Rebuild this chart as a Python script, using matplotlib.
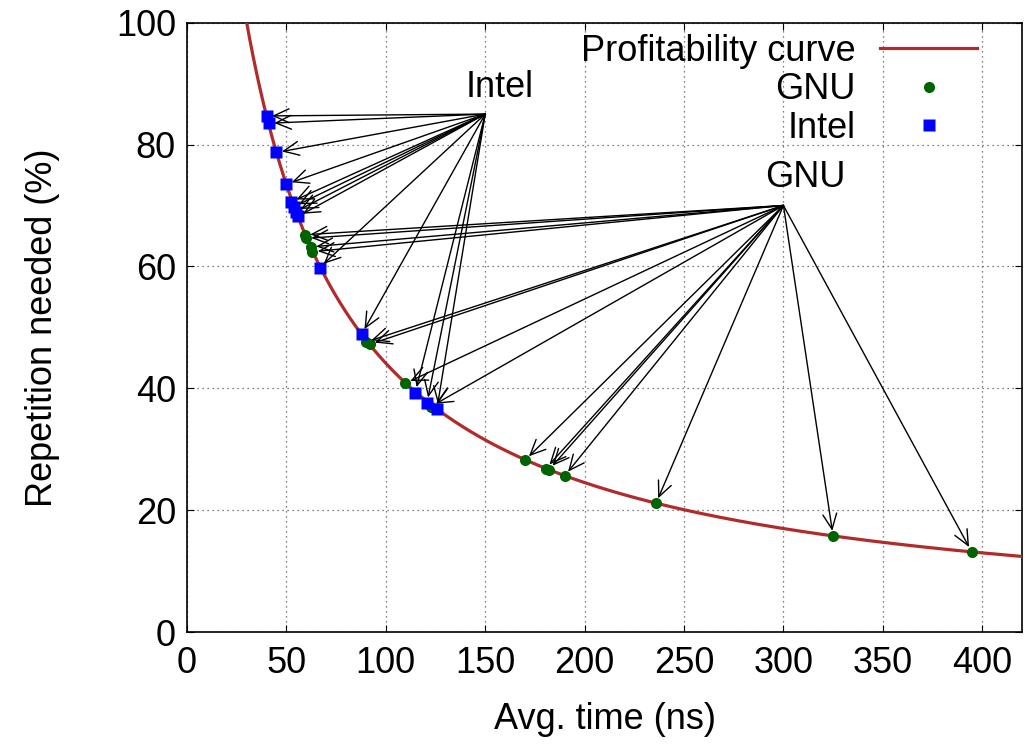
import numpy as np
import matplotlib
matplotlib.use("Agg")
import matplotlib.pyplot as plt

plt.rcParams['font.family'] = ['Liberation Sans', 'DejaVu Sans']

# ---- data ----
# Profitability curve: repetition (%) = CURVE_A / (time + CURVE_B)
CURVE_A = 5522.0
CURVE_B = 25.2

gnu_x = [59.2, 59.7, 62.2, 63.0, 90.1, 91.8, 109.8, 122.7, 170.0, 180.4, 182.0, 189.9, 235.9, 325.0, 394.7]
gnu_y = [65.2, 64.6, 63.2, 62.4, 47.6, 47.2, 40.8, 37.0, 28.2, 26.8, 26.6, 25.6, 21.1, 15.7, 13.15]

intel_x = [40.0, 41.1, 45.0, 50.0, 52.5, 53.7, 54.7, 55.8, 66.7, 87.9, 114.8, 120.7, 125.7]
intel_y = [84.7, 83.5, 78.7, 73.5, 70.6, 69.8, 69.0, 68.2, 59.8, 48.9, 39.3, 37.6, 36.6]

intel_label = "Intel"
intel_label_pos = (157, 89.3)
intel_origin = (150, 85)
gnu_label = "GNU"
gnu_label_pos = (311, 74.6)
gnu_origin = (300, 70)

x_ticks = [0, 50, 100, 150, 200, 250, 300, 350, 400]
y_ticks = [0, 20, 40, 60, 80, 100]

# ---- figure ----
fig = plt.figure(figsize=(10.25, 7.46), dpi=100)
ax = fig.add_axes([187/1025, 1 - 632/746, (1022-187)/1025, (632-22.7)/746])

FS = 26

xs = np.linspace(0.5, 420, 2000)
ax.plot(xs, CURVE_A / (xs + CURVE_B), color='#b22b2b', lw=2.3, label='Profitability curve', zorder=3)

arrow_kw = dict(arrowstyle='->,head_length=0.55,head_width=0.25', color='black', lw=1.0,
                shrinkA=0, shrinkB=4, mutation_scale=20)
for px, py in zip(intel_x, intel_y):
    ax.annotate('', xy=(px, py), xytext=intel_origin, arrowprops=arrow_kw, zorder=5)
for px, py in zip(gnu_x, gnu_y):
    ax.annotate('', xy=(px, py), xytext=gnu_origin, arrowprops=arrow_kw, zorder=5)

ax.plot(gnu_x, gnu_y, 'o', color='#006400', ms=8, mec='none', label='GNU', zorder=4)
ax.plot(intel_x, intel_y, 's', color='#0000ff', ms=8, mec='none', label='Intel', zorder=4)

ax.text(*intel_label_pos, intel_label, fontsize=FS, ha='center', va='center')
ax.text(*gnu_label_pos, gnu_label, fontsize=FS, ha='center', va='center')

ax.set_xlim(0, 420)
ax.set_ylim(0, 100)
ax.set_xticks(x_ticks)
ax.set_yticks(y_ticks)
ax.tick_params(direction='in', length=5, width=0.8, top=True, right=True, labelsize=FS, pad=8)
ax.tick_params(axis='x', pad=10)
ax.grid(True, linestyle=(0, (1, 3)), color='#555555', lw=0.9)
for s in ax.spines.values():
    s.set_linewidth(1.2)

ax.set_xlabel('Avg. time (ns)', fontsize=FS, labelpad=15)
ax.set_ylabel('Repetition needed (%)', fontsize=FS, labelpad=40)

leg = ax.legend(loc='upper right', markerfirst=False, frameon=False, fontsize=FS,
                handlelength=2.7, handletextpad=0.67, labelspacing=0.09,
                borderaxespad=0.0, bbox_to_anchor=(0.964, 1.005), numpoints=1)

fig.savefig('out.png', dpi=100)
